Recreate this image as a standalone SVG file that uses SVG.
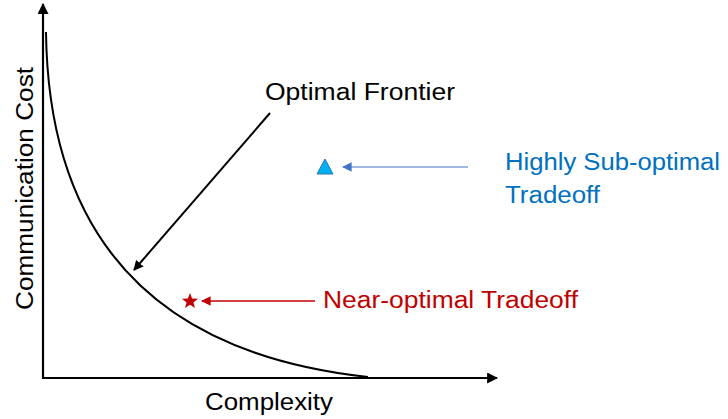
<svg xmlns="http://www.w3.org/2000/svg" width="728" height="419" viewBox="0 0 728 419">
<style>
text{font-family:"Liberation Sans","Open Sans",sans-serif;font-size:23px}
.blk{fill:#000}
.blue{fill:#0070C0}
.red{fill:#C00000}
</style>
<defs>
<marker id="ah" viewBox="0 0 10 10" refX="9" refY="5" markerWidth="5" markerHeight="5" orient="auto" markerUnits="strokeWidth"><path d="M0,0 L10,5 L0,10 z" fill="#000"/></marker>
<marker id="ahb" viewBox="0 0 10 10" refX="9" refY="5" markerWidth="8" markerHeight="8" orient="auto" markerUnits="strokeWidth"><path d="M0,0 L10,5 L0,10 z" fill="#4472C4"/></marker>
<marker id="ahr" viewBox="0 0 10 10" refX="9" refY="5" markerWidth="6" markerHeight="6" orient="auto" markerUnits="strokeWidth"><path d="M0,0 L10,5 L0,10 z" fill="#C00000"/></marker>
</defs>
<g id="connectors">
<line x1="43" y1="379" x2="43" y2="4" stroke="#000" stroke-width="2.2" marker-end="url(#ah)"/>
<line x1="42" y1="378" x2="497" y2="378" stroke="#000" stroke-width="2.2" marker-end="url(#ah)"/>
<line x1="270" y1="113" x2="134" y2="270" stroke="#000" stroke-width="2" marker-end="url(#ah)"/>
<line x1="468" y1="167" x2="343" y2="167" stroke="#4472C4" stroke-width="1.2" marker-end="url(#ahb)"/>
<line x1="315" y1="301" x2="202" y2="301" stroke="#C00000" stroke-width="1.6" marker-end="url(#ahr)"/>
</g>
<g id="frontier">
<path d="M46,32 C48,200 120,350 368,377" fill="none" stroke="#000" stroke-width="2"/>
</g>
<g id="triangle">
<polygon points="325,159 333,174 317,174" fill="#00B0F0" stroke="#2E75B6" stroke-width="1"/>
</g>
<g id="star">
<polygon points="190,293 192.1,298.6 198,298.8 193.4,302.4 195,308.1 190,304.8 185,308.1 186.6,302.4 182,298.8 187.9,298.6" fill="#C00000"/>
</g>
<g id="labels">
<text x="265" y="100" class="blk" textLength="190" lengthAdjust="spacingAndGlyphs">Optimal Frontier</text>
<text x="505" y="170" class="blue" textLength="215" lengthAdjust="spacingAndGlyphs">Highly Sub-optimal</text>
<text x="505" y="203" class="blue" textLength="95" lengthAdjust="spacingAndGlyphs">Tradeoff</text>
<text x="323" y="308" class="red" textLength="255" lengthAdjust="spacingAndGlyphs">Near-optimal Tradeoff</text>
<text x="205" y="410" class="blk" textLength="128" lengthAdjust="spacingAndGlyphs">Complexity</text>
<text transform="translate(33,310) rotate(-90)" class="blk" textLength="243" lengthAdjust="spacingAndGlyphs">Communication Cost</text>
</g>
</svg>
